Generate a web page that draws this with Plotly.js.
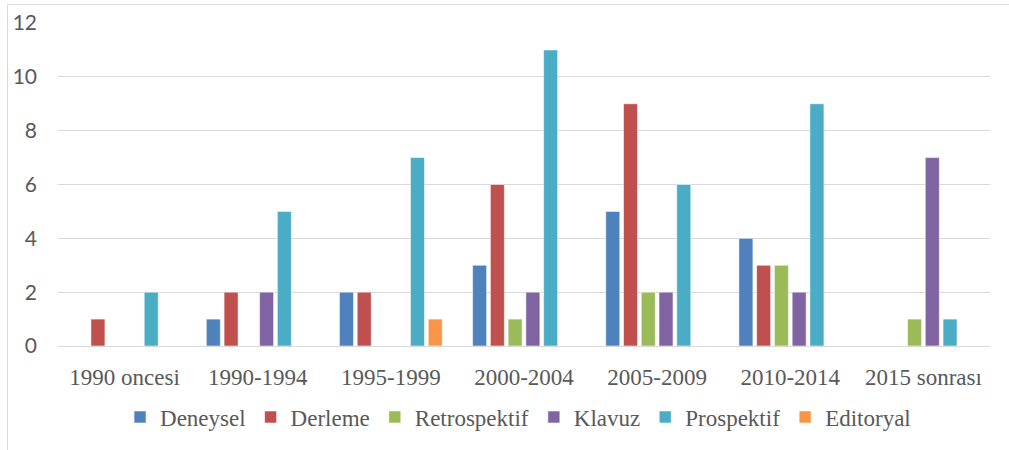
<!DOCTYPE html>
<html>
<head>
<meta charset="utf-8">
<script src="https://cdn.plot.ly/plotly-3.0.1.min.js"></script>
<style>html,body{margin:0;padding:0;background:#fff}#chart{width:1009px;height:450px}</style>
</head>
<body>
<div id="chart"></div>
<script>
const categories = ["1990 oncesi", "1990-1994", "1995-1999", "2000-2004", "2005-2009", "2010-2014", "2015 sonrası"];
const deneysel     = [0, 1, 2, 3, 5, 4, 0];
const derleme      = [1, 2, 2, 6, 9, 3, 0];
const retrospektif = [0, 0, 0, 1, 2, 3, 1];
const klavuz       = [0, 2, 0, 2, 2, 2, 7];
const prospektif   = [2, 5, 7, 11, 6, 9, 1];
const editoryal    = [0, 0, 1, 0, 0, 0, 0];
const seriesNames  = ["Deneysel", "Derleme", "Retrospektif", "Klavuz", "Prospektif", "Editoryal"];
const seriesValues = [deneysel, derleme, retrospektif, klavuz, prospektif, editoryal];
const colors = ["#4F81BD", "#C0504D", "#9BBB59", "#8064A2", "#4BACC6", "#F79646"];

const traces = seriesNames.map((n, i) => ({
  type: "bar",
  name: n,
  x: categories,
  y: seriesValues[i],
  marker: {color: colors[i], line: {color: "rgba(255,255,255,0.55)", width: 1}},
  hoverinfo: "x+y+name"
}));

const serif = "Liberation Serif, Times New Roman, serif";

const layout = {
  width: 1009, height: 450,
  margin: {l: 58, r: 19, t: 23, b: 102},
  paper_bgcolor: "#ffffff", plot_bgcolor: "#ffffff",
  barmode: "group", bargap: 0.2, bargroupgap: 0.21,
  showlegend: true,
  legend: {
    orientation: "h", x: 0.4936, xanchor: "center", y: -0.22, yanchor: "middle",
    font: {family: serif, size: 23, color: "#595959"},
    itemclick: false, itemdoubleclick: false, traceorder: "normal"
  },
  xaxis: {
    type: "category",
    showgrid: false, zeroline: false,
    showline: true, linecolor: "#d9d9d9", linewidth: 1,
    ticks: "", ticklabelstandoff: 10,
    tickfont: {family: serif, size: 23, color: "#595959"}
  },
  yaxis: {
    range: [0, 12], dtick: 2, tick0: 0,
    showgrid: true, gridcolor: "#d9d9d9", gridwidth: 1,
    zeroline: false, showline: false, ticks: "",
    ticklabelstandoff: 20,
    tickfont: {family: "Lato, Open Sans, sans-serif", size: 21, color: "#595959"}
  },
  shapes: [{
    type: "rect", xref: "paper", yref: "paper",
    x0: -0.0542, x1: 1.2, y0: -0.5, y1: 1.057,
    line: {color: "#d9d9d9", width: 1}, fillcolor: "rgba(0,0,0,0)", layer: "below"
  }]
};

Plotly.newPlot("chart", traces, layout, {staticPlot: true, displayModeBar: false});
</script>
</body>
</html>
